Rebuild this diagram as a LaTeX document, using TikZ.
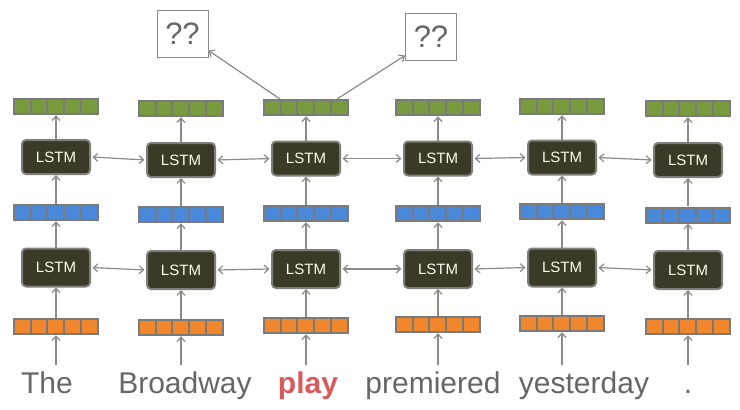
\documentclass[tikz,border=0pt]{standalone}
\usepackage{fontspec}
\setmainfont{Liberation Sans}
\usetikzlibrary{arrows.meta,calc}
\definecolor{lstmfill}{HTML}{3B3A27}
\definecolor{lstmedge}{HTML}{7E7E7A}
\definecolor{linegray}{HTML}{8A8A8A}
\definecolor{bargray}{HTML}{7A7A7A}
\definecolor{cgreen}{HTML}{779B3E}
\definecolor{cblue}{HTML}{4A88DA}
\definecolor{corange}{HTML}{F0872C}
\definecolor{wordgray}{HTML}{666666}
\definecolor{playred}{HTML}{D95A5A}
\newcommand\cellbar[4]{%
  \node[barbox] (#1) at (#2,#3) {};
  \foreach \i in {0,...,4}
    \fill[#4] ($(#1.west)+(2+\i*16.8,-6.5)$) rectangle ++(14.8,13);
}
\begin{document}
\begin{tikzpicture}[x=1pt,y=-1pt,
  lstm/.style={draw=lstmedge, line width=2pt, fill=lstmfill, rounded corners=4pt,
     minimum width=68pt, inner sep=0pt, text=white!92!yellow, font=\fontsize{15}{15}\selectfont},
  lstmtop/.style={lstm, minimum height=34pt},
  lstmbot/.style={lstm, minimum height=38pt},
  barbox/.style={fill=bargray, minimum width=86pt, minimum height=17pt, inner sep=0pt, draw=none},
  arr/.style={draw=linegray, line width=1.2pt, -{Straight Barb[length=4.5pt,width=8pt]}},
  biarr/.style={draw=linegray, line width=1.2pt, {Straight Barb[length=4.5pt,width=8pt]}-{Straight Barb[length=4.5pt,width=8pt]}, shorten <=1.5pt, shorten >=1.5pt},
  word/.style={anchor=base, text=wordgray, font=\fontsize{30}{30}\selectfont, inner sep=0pt},
  qbox/.style={draw=linegray, line width=1pt, fill=white, minimum width=51pt, minimum height=47pt,
     inner sep=0pt, text=wordgray, font=\fontsize{31}{31}\selectfont}
]
\useasboundingbox (0,0) rectangle (740,410);
\fill[white] (0,0) rectangle (740,410);

% columns: x, green y, top LSTM y, blue y, bottom LSTM y, orange y
\foreach \n/\x/\g/\t/\b/\l/\o in {1/56/106.5/157/212.5/267.5/326.5,
                                  2/181/108.5/160/214.5/270/327.5,
                                  3/306/107.5/158.5/213.5/269/325.5,
                                  4/438/107.5/158.5/213.5/269/324.5,
                                  5/562/106.5/157.5/211.5/267.5/323.5,
                                  6/688/108.5/160/215/270/326.5}{
  \cellbar{g\n}{\x}{\g}{cgreen}
  \cellbar{b\n}{\x}{\b}{cblue}
  \cellbar{o\n}{\x}{\o}{corange}
  \node[lstmtop] (T\n) at (\x,\t) {LSTM};
  \node[lstmbot] (B\n) at (\x,\l) {LSTM};
  \coordinate (s\n) at (\x,365);
  \draw[arr] (s\n) -- (o\n.south);
  \draw[arr] (o\n.north) -- (B\n.south);
  \draw[arr] (B\n.north) -- (b\n.south);
  \draw[arr] (b\n.north) -- (T\n.south);
  \draw[arr] (T\n.north) -- (g\n.south);
}

\foreach \a/\b in {1/2,2/3,3/4,4/5,5/6}{
  \draw[biarr] (T\a.east) -- (T\b.west);
  \draw[biarr] (B\a.east) -- (B\b.west);
}

% words
\node[word] (w1) at (47,393) {The};
\node[word] (w2) at (185,393) {Broadway};
\node[word, text=playred, font=\fontsize{30}{30}\selectfont\bfseries] (w3) at (308,393) {play};
\node[word] (w4) at (433,393) {premiered};
\node[word] (w5) at (584,393) {yesterday};
\node[word] (w6) at (688,393) {.};

% question boxes
\node[qbox] (q1) at (182.5,33.5) {??};
\node[qbox] (q2) at (431,36.5) {??};
\coordinate (gl) at (280,99);
\coordinate (gr) at (337,99);
\draw[arr] (gl) -- ([yshift=7pt]q1.south east);
\draw[arr] (gr) -- ([yshift=5pt]q2.south west);
\end{tikzpicture}
\end{document}
